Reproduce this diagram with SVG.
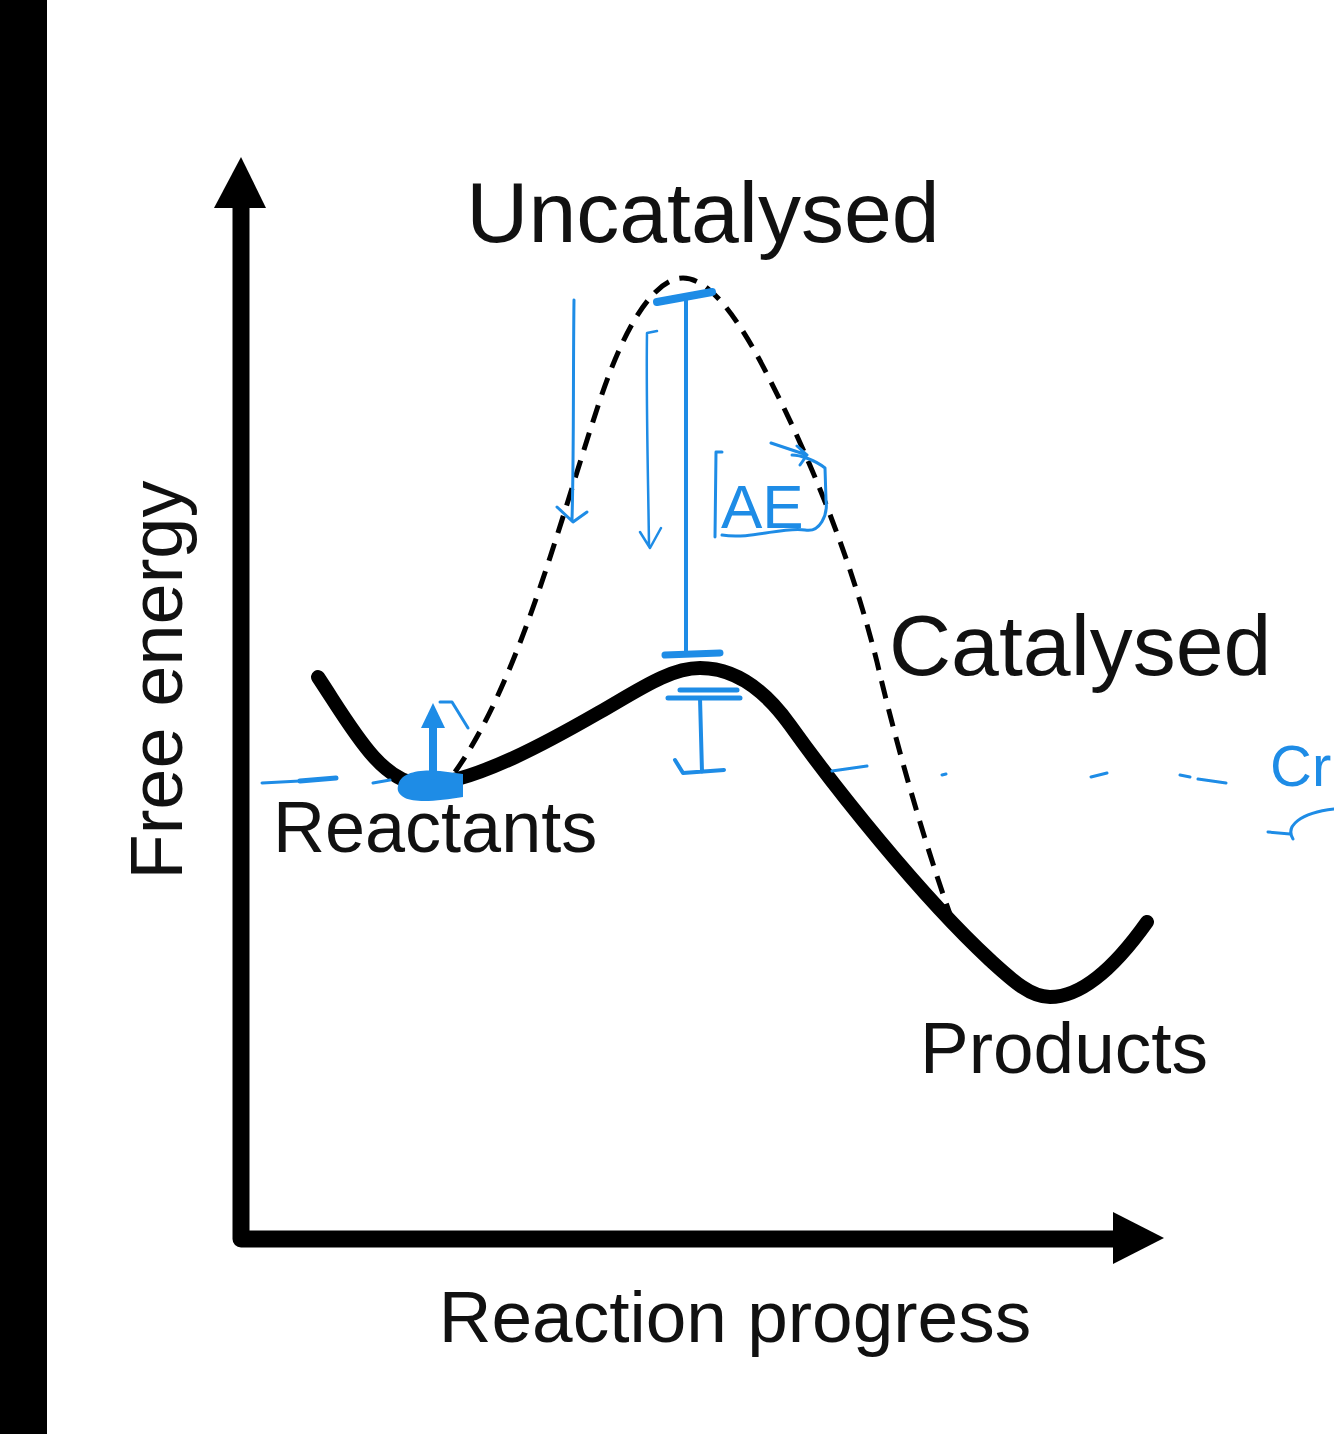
<svg xmlns="http://www.w3.org/2000/svg" width="1334" height="1434" viewBox="0 0 1334 1434">
<style>
.lbl{font-family:"Liberation Sans",Arial,Helvetica,sans-serif;fill:#111}
.ink{fill:none;stroke:#1e8ce6;stroke-linecap:round;stroke-linejoin:round}
.hand{font-family:"Liberation Sans",Arial,sans-serif;fill:#1e8ce6}
</style>
<rect width="1334" height="1434" fill="#fff"/>
<rect id="sidebar" x="0" y="0" width="47" height="1434" fill="#000"/>

<g id="connectors">
  <path id="axes" d="M241,205 L241,1239 L1118,1239" fill="none" stroke="#000" stroke-width="17" stroke-linejoin="round"/>
  <polygon points="241,157 266,208 214,208" fill="#000"/>
  <polygon points="1164,1238 1113,1212 1113,1264" fill="#000"/>
  <path id="uncatalysed-curve" d="M455,772 C520,680 560,520 600,400 C630,310 660,278 683,278 C710,278 740,320 770,380 C812,462 852,562 877,662 C900,760 930,860 955,928" fill="none" stroke="#000" stroke-width="5" stroke-dasharray="18 11"/>
  <path id="catalysed-curve" d="M318,677 C350,725 380,782 420,784 C470,787 560,735 600,712 C640,689 670,668 700,668 C735,668 765,690 790,725 C835,788 920,895 990,960 C1012,980 1030,997 1050,997 C1085,997 1120,960 1147,922" fill="none" stroke="#000" stroke-width="14" stroke-linecap="round" stroke-linejoin="round"/>
</g>

<g id="annotations">
  <path class="ink" stroke-width="3" d="M262,783 L300,781 M373,783 L390,780 M832,771 L867,766 M942,775 L946,774 M1091,777 L1107,773 M1180,775 L1190,777 M1198,779 L1226,783"/>
  <path class="ink" stroke-width="5" d="M300,781 L336,778"/>
  <path class="ink" stroke-width="3" d="M574,300 C573,380 574,450 572,520 M557,507 L573,522 L587,512"/>
  <path class="ink" stroke-width="2.5" d="M657,331 L647,333 C646,400 648,470 649,545 M640,532 L650,548 L661,528"/>
  <path class="ink" stroke-width="8" d="M657,302 L712,292"/>
  <path class="ink" stroke-width="4" d="M686,300 L686,655"/>
  <path class="ink" stroke-width="7" d="M665,655 L720,653"/>
  <path class="ink" stroke-width="5" d="M668,698 L740,698 M680,690 L737,690"/>
  <path class="ink" stroke-width="4" d="M700,698 L702,772 M675,760 L683,773 L724,770"/>
  <path class="ink" stroke-width="3" d="M722,452 L716,452 L715,537 M722,535 C750,540 785,526 805,530 C820,533 828,515 826,500 L825,468 C815,460 800,455 792,455 M771,443 L807,455 M797,446 L807,455 L800,465"/>
  <text class="hand" x="721" y="528" font-size="62">AE</text>
  <path id="reactant-blob" d="M398,786 C400,772 420,769 440,771 L463,774 L463,797 C440,801 415,803 405,798 C398,794 397,790 398,786 Z" fill="#1e8ce6"/>
  <path class="ink" stroke-width="8" d="M433,776 L433,718"/>
  <polygon points="421,728 433,703 445,728" fill="#1e8ce6"/>
  <path class="ink" stroke-width="3" d="M440,702 L452,702 L468,728"/>
  <text class="hand" x="1270" y="786" font-size="58">Cr</text>
  <path class="ink" stroke-width="3" d="M1268,832 L1290,834 M1293,839 C1285,826 1300,813 1334,809"/>
</g>

<g id="node-uncatalysed"><text class="lbl" x="703" y="242" font-size="86" text-anchor="middle">Uncatalysed</text></g>
<g id="node-catalysed"><text class="lbl" x="889" y="675" font-size="86">Catalysed</text></g>
<g id="node-reactants"><text class="lbl" x="273" y="852" font-size="72">Reactants</text></g>
<g id="node-products"><text class="lbl" x="920" y="1073" font-size="73">Products</text></g>
<g id="node-xlabel"><text class="lbl" x="735" y="1342" font-size="73" text-anchor="middle">Reaction progress</text></g>
<g id="node-ylabel"><text class="lbl" transform="translate(182,680) rotate(-90)" x="0" y="0" font-size="74" text-anchor="middle">Free energy</text></g>
</svg>
